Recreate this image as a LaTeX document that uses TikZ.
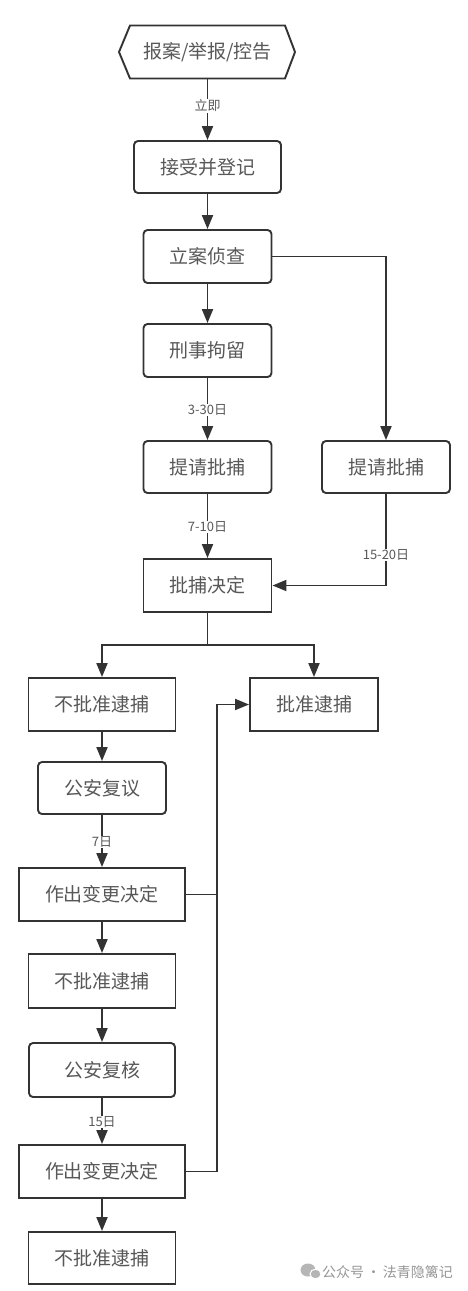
\documentclass[tikz,border=0pt]{standalone}
\usepackage{fontspec}
\newfontfamily\cjk{Noto Sans CJK SC}
\usetikzlibrary{arrows.meta}
\definecolor{linec}{RGB}{51,51,51}
\definecolor{txtc}{RGB}{88,88,88}
\definecolor{wmc}{RGB}{150,150,150}
\begin{document}
\begin{tikzpicture}[x=1pt,y=-1pt,
  box/.style={draw=linec, line width=1.9pt, minimum width=#1, minimum height=53pt,
    inner sep=0pt, text=txtc, font=\cjk\fontsize{19}{19}\selectfont},
  rbox/.style={box=#1, rounded corners=4pt},
  arr/.style={draw=linec, line width=1.9pt, -{Triangle[width=11pt,length=14pt]}},
  ln/.style={draw=linec, line width=1.9pt},
  lbl/.style={fill=white, inner sep=1pt, text=txtc, font=\cjk\fontsize{13}{13}\selectfont}]
\fill[white] (0,0) rectangle (467,1291);
\useasboundingbox (0,0) rectangle (467,1291);

% top hexagon
\node[minimum width=176pt, minimum height=53pt, inner sep=0pt, text=txtc,
  font=\cjk\fontsize{19}{19}\selectfont] (n0) at (207.5,52) {报案/举报/控告};
\draw[linec, line width=1.9pt, line join=miter]
  (130,25.5) -- (285,25.5) -- (295,52) -- (285,78.5) -- (130,78.5) -- (119,52) -- cycle;

\node[rbox=147pt, minimum height=52pt] (n1) at (207.5,167) {接受并登记};
\node[rbox=128pt] (n2) at (207.5,256.5) {立案侦查};
\node[rbox=128pt] (n3) at (207.5,350.5) {刑事拘留};
\node[rbox=128pt, minimum height=52pt] (n4) at (207.5,467) {提请批捕};
\node[rbox=128pt, minimum height=52pt] (n5) at (386,467) {提请批捕};
\node[box=128pt] (n6) at (207.5,585.5) {批捕决定};
\node[box=147pt] (n7) at (102,704.5) {不批准逮捕};
\node[box=128pt] (n8) at (314,704.5) {批准逮捕};
\node[rbox=128pt, minimum height=52pt] (n9) at (102,788) {公安复议};
\node[box=166pt] (n10) at (102,894.5) {作出变更决定};
\node[box=147pt, minimum height=54pt] (n11) at (102,981) {不批准逮捕};
\node[rbox=146pt, minimum height=54pt] (n12) at (102,1070) {公安复核};
\node[box=166pt] (n13) at (102,1171.5) {作出变更决定};
\node[box=147pt, minimum height=52pt] (n14) at (102,1258) {不批准逮捕};

\coordinate (s1) at (207.5,645);
\coordinate (jt) at (217,704.5);

% connectors
\draw[arr] (207.5,78.5) -- (n1.north);
\node[lbl] (l0) at (207.5,106) {立即};
\draw[arr] (n1) -- (n2);
\draw[arr] (n2.east) -| (n5.north);
\draw[arr] (n2) -- (n3);
\draw[arr] (n3) -- (n4);
\node[lbl] (l1) at (207.5,410) {3-30日};
\draw[arr] (n4) -- (n6);
\node[lbl] (l2) at (207.5,527) {7-10日};
\draw[arr] (n5.south) |- (n6.east);
\node[lbl] (l3) at (386,555) {15-20日};
\draw[ln] (n6.south) -- (s1);
\draw[arr] (s1) -| (n7.north);
\draw[arr] (s1) -| (n8.north);
\draw[arr] (n7) -- (n9);
\draw[arr] (n9) -- (n10);
\node[lbl] (l4) at (102,842) {7日};
\draw[arr] (n10) -- (n11);
\draw[arr] (n11) -- (n12);
\draw[arr] (n12) -- (n13);
\node[lbl] (l5) at (102,1122) {15日};
\draw[arr] (n13) -- (n14);
\draw[ln] (n10.east) -- (n10.east -| jt);
\draw[arr] (n13.east) -| (jt) -- (n8.west);

% watermark
\fill[wmc!70] (308,1270) ellipse (7.5pt and 6.5pt);
\draw[white, line width=1pt, fill=wmc!70] (315.5,1274) ellipse (5.5pt and 4.8pt);
\node[anchor=west, inner sep=0pt, text=wmc, font=\cjk\fontsize{14}{14}\selectfont] (wm) at (322,1272) {公众号\,·\,法青隐篱记};
\end{tikzpicture}
\end{document}
